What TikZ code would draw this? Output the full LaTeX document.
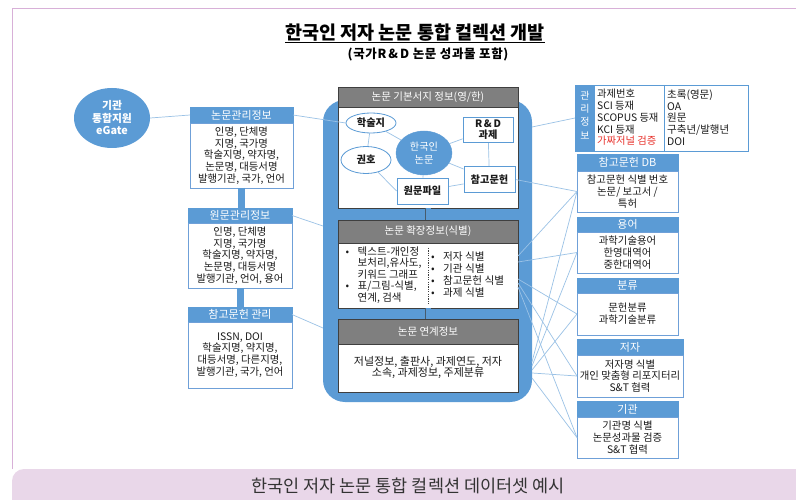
\documentclass[tikz,border=0pt]{standalone}
\usepackage{fontspec}
\setmainfont{Noto Sans CJK KR}
\usetikzlibrary{shapes.geometric,calc}
\pgfdeclarelayer{front}
\pgfsetlayers{main,front}
\definecolor{hblue}{HTML}{5B9BD5}
\definecolor{cblue}{HTML}{5B9BD5}
\definecolor{lblue}{HTML}{9BC2E6}
\definecolor{bdr}{HTML}{6FA0D8}
\definecolor{gray7}{HTML}{7F7F7F}
\definecolor{dk}{HTML}{3F3F3F}
\definecolor{pinkl}{HTML}{D8B0D8}
\definecolor{pinkf}{HTML}{E9D7E9}
\definecolor{txt}{HTML}{1A1A1A}
\definecolor{tgray}{HTML}{333333}
\definecolor{fake}{HTML}{E8302A}
\begin{document}
\begin{tikzpicture}[x=1pt,y=-1pt,
  hdr/.style={fill=hblue,draw=hblue,text=white,line width=0.8pt,inner sep=0pt,outer sep=0pt,font=\fontsize{11}{12}\selectfont},
  bodybox/.style={fill=white,draw=bdr,line width=0.8pt,inner sep=0pt,outer sep=0pt,align=center,text=txt,font=\fontsize{10.4}{11.8}\selectfont},
  ghdr/.style={fill=gray7,draw=dk,line width=0.7pt,text=white,inner sep=0pt,outer sep=0pt,minimum width=180pt,font=\fontsize{10.5}{12}\selectfont},
  gbody/.style={fill=white,draw=dk,line width=0.7pt,inner sep=0pt,outer sep=0pt,minimum width=180pt,anchor=north},
  conn/.style={draw=lblue,line width=0.7pt},
  inbox/.style={draw=hblue,fill=white,line width=0.8pt,inner sep=0pt,align=center,text=txt,font=\fontsize{10.2}{11.5}\selectfont\bfseries},
  inell/.style={ellipse,draw=hblue,fill=white,line width=0.8pt,inner sep=0pt,text=txt,font=\fontsize{10.2}{12}\selectfont\bfseries},
  linkbar/.style={draw=dk!70!hblue,line width=0.6pt,double=hblue,double distance=5pt},
  sidebar/.style={draw=hblue,line width=7pt}
]
\useasboundingbox (0,0) rectangle (796,500);
\fill[white] (0,0) rectangle (796,500);
% frame and caption bar
\fill[pinkf, rounded corners=12pt] (12,469) rectangle (830,540);
\draw[pinkl, line width=0.8pt] (12,469) -- (12,8) -- (800,8);
\node[font=\fontsize{17.5}{19}\selectfont, text=tgray] (cap) at (408,486) {한국인 저자 논문 통합 컬렉션 데이터셋 예시};

% title
\node[font=\fontsize{18.5}{20}\selectfont\bfseries, inner sep=0pt] (title) at (415,33) {한국인 저자 논문 통합 컬렉션 개발};
\coordinate (ul) at (0,42);
\draw[line width=0.9pt] (title.west |- ul) -- (title.east |- ul);
\node[font=\fontsize{12.5}{14}\selectfont\bfseries\addfontfeature{LetterSpace=5}] (sub) at (428,54) {(국가R\,\&\,D 논문 성과물 포함)};

% eGate
\node[ellipse, fill=hblue, minimum width=76pt, minimum height=60pt, inner sep=0pt, text=white, align=center, font=\fontsize{10.8}{12.5}\selectfont\bfseries] (eg) at (112,118) {기관\\통합지원\\eGate};

% left boxes
\node[hdr, minimum width=103pt, minimum height=16pt] (b1h) at (241.5,115) {논문관리정보};
\node[bodybox, minimum width=103pt, minimum height=65pt, anchor=north] (b1) at (b1h.south) {인명, 단체명\\지명, 국가명\\학술지명, 약자명,\\논문명, 대등서명\\발행기관, 국가, 언어};
\node[hdr, minimum width=104pt, minimum height=15pt] (b2h) at (240,215.5) {원문관리정보};
\node[bodybox, minimum width=104pt, minimum height=65pt, anchor=north] (b2) at (b2h.south) {인명, 단체명\\지명, 국가명\\학술지명, 약자명,\\논문명, 대등서명\\발행기관, 언어, 용어};
\node[hdr, minimum width=104pt, minimum height=15pt] (b3h) at (240,314.5) {참고문헌 관리};
\node[bodybox, minimum width=104pt, minimum height=66pt, anchor=north] (b3) at (b3h.south) {ISSN, DOI\\학술지명, 약지명,\\대등서명, 다른지명,\\발행기관, 국가, 언어};
\draw[sidebar] (b1.south) -- (b1.south |- b2h.north);
\draw[sidebar] (b2.south) -- (b2.south |- b3h.north);

\draw[conn] (eg.east) -- (b1h.west);
\coordinate (c2) at (323,226);
\coordinate (c3) at (323,328);
\draw[conn] (b2h.east) -- (c2);
\draw[conn] (b3h.east) -- (c3);

% central container
\node[fill=cblue, rounded corners=22pt, minimum width=209pt, minimum height=302pt, outer sep=0pt, inner sep=0pt] (cont) at (427.5,251) {};

% panels
\node[ghdr, minimum height=20pt] (p1h) at (428,97) {논문 기본서지 정보(영/한)};
\node[gbody, minimum height=101pt] (p1) at (p1h.south) {};
\node[ghdr, minimum height=23pt] (p2h) at (428,231.5) {논문 확장정보(식별)};
\node[gbody, minimum height=65pt] (p2) at (p2h.south) {};
\node[ghdr, minimum height=25pt] (p3h) at (428,331.5) {논문 연계정보};
\node[gbody, minimum height=48pt] (p3) at (p3h.south) {};
\draw[linkbar] (p1.south) -- (p2h.north);
\draw[linkbar] (p2.south) -- (p3h.north);

% panel 1 content
\begin{pgfonlayer}{front}
\node[inell, minimum width=50pt, minimum height=20pt] (hak) at (371,123) {학술지};
\node[inell, minimum width=50pt, minimum height=27pt] (gh) at (366,160) {권호};
\node[ellipse, fill=hblue, draw=hblue, minimum width=56pt, minimum height=44pt, inner sep=0pt, align=center, text=white, font=\fontsize{10.2}{12.5}\selectfont] (kr) at (424,153) {한국인\\논문};
\node[inbox, minimum width=50pt, minimum height=25pt] (rd) at (488,129.5) {R\,\&\,D\\과제};
\node[inbox, minimum width=51pt, minimum height=26pt] (ref) at (489.5,179.5) {참고문헌};
\node[inbox, minimum width=51pt, minimum height=26pt] (wf) at (422.5,191) {원문파일};
\end{pgfonlayer}
\draw[conn] (hak) -- (kr);
\draw[conn] (hak) -- (gh);
\draw[conn] (gh) -- (wf.west);
\draw[conn] (kr) -- (wf);
\draw[conn] (kr) -- (rd);
\draw[conn] (kr) -- (ref);
\draw[conn] (rd) -- (ref);
\draw[conn] (wf) -- (ref);
\draw[conn] (b1h.east) -- (hak.west);

% panel 2 content
\node[anchor=west, align=left, font=\fontsize{10.5}{11.5}\selectfont, text=txt, inner sep=0pt] (p2l) at (345.5,275) {\makebox[12pt][l]{•}텍스트-개인정\\\hspace*{12pt}보처리,유사도,\\\hspace*{12pt}키워드 그래프\\\makebox[12pt][l]{•}표/그림-식별,\\\hspace*{12pt}연계, 검색};
\coordinate (d1) at (428,248);
\coordinate (d2) at (428,305);
\draw[dk, line width=0.6pt, dash pattern=on 1.2pt off 1.2pt] (d1) -- (d2);
\node[anchor=west, align=left, font=\fontsize{10.6}{11.7}\selectfont, text=txt, inner sep=0pt] (p2r) at (431,274.5) {\makebox[12pt][l]{•}저자 식별\\\makebox[12pt][l]{•}기관 식별\\\makebox[12pt][l]{•}참고문헌 식별\\\makebox[12pt][l]{•}과제 식별};

% panel 3 content
\node[align=center, font=\fontsize{11}{11.5}\selectfont, text=txt, inner sep=0pt] (p3t) at (428,367.5) {저널정보, 출판사, 과제연도, 저자\\소속, 과제정보, 주제분류};

% right: management info table
\node[draw=hblue, line width=0.9pt, minimum width=173pt, minimum height=66pt, inner sep=0pt, outer sep=0pt, fill=white] (mg) at (661.5,118) {};
\node[fill=hblue, minimum width=20pt, minimum height=66pt, inner sep=0pt, outer sep=0pt, anchor=west] (mgs) at (mg.west) {};
\node[align=center, text=white, font=\fontsize{10}{13.3}\selectfont, inner sep=0pt] (mgt) at (585,115) {관\\리\\정\\보};
\draw[hblue, line width=0.8pt] ($(mg.north west)+(89,0)$) -- ($(mg.south west)+(89,0)$);
\node[anchor=west, align=left, font=\fontsize{10.3}{11.75}\selectfont, text=txt, inner sep=0pt] (mgl) at (597,117.5) {과제번호\\SCI 등재\\SCOPUS 등재\\KCI 등재\\\textcolor{fake}{가짜저널 검증}};
\node[anchor=west, align=left, font=\fontsize{10.5}{11.75}\selectfont, text=txt, inner sep=0pt] (mgr) at (667,117.5) {초록(영문)\\OA\\원문\\구축년/발행년\\DOI};

% right boxes
\node[hdr, minimum width=101pt, minimum height=17pt] (dbh) at (627.5,162.5) {참고문헌 DB};
\node[bodybox, minimum width=101pt, minimum height=41pt, anchor=north] (dbb) at (dbh.south) {참고문헌 식별 번호\\논문/ 보고서 /\\특허};
\node[hdr, minimum width=101pt, minimum height=15pt] (yh) at (627.5,224.5) {용어};
\node[bodybox, minimum width=101pt, minimum height=41pt, anchor=north] (yb) at (yh.south) {과학기술용어\\한영대역어\\중한대역어};
\node[hdr, minimum width=101pt, minimum height=15pt] (fh) at (627.5,285.5) {분류};
\node[bodybox, minimum width=101pt, minimum height=42pt, anchor=north] (fb) at (fh.south) {문헌분류\\과학기술분류};
\node[hdr, minimum width=106pt, minimum height=16pt] (jh) at (630,347) {저자};
\node[bodybox, minimum width=106pt, minimum height=42pt, anchor=north] (jb) at (jh.south) {저자명 식별\\개인 맞춤형 리포지터리\\S\&T 협력};
\node[hdr, minimum width=101pt, minimum height=16pt] (kh) at (627.5,409) {기관};
\node[bodybox, minimum width=101pt, minimum height=41pt, anchor=north] (kb) at (kh.south) {기관명 식별\\논문성과물 검증\\S\&T 협력};

% right connectors
\coordinate (r0) at (532,127);
\draw[conn] (r0) -- (mg.west);
\draw[conn] (ref.east) -- (dbb.west);
\coordinate (s2a) at (518,256);
\coordinate (s2b) at (518,262);
\coordinate (s2c) at (518,279);
\coordinate (s2d) at (518,283);
\coordinate (s2e) at (518,287);
\coordinate (s3a) at (532,362);
\coordinate (s3b) at (532,366);
\coordinate (s3c) at (532,370);
\coordinate (s3d) at (532,373);
\coordinate (s3e) at (532,378);
\draw[conn] (s2a) -- (dbb.west);
\draw[conn] (s2b) -- (yb.west);
\draw[conn] (s2c) -- (fb.west);
\draw[conn] (s2d) -- (jb.west);
\draw[conn] (s2e) -- (kb.west);
\draw[conn] (s3a) -- (dbb.west);
\draw[conn] (s3b) -- (yb.west);
\draw[conn] (s3c) -- (fb.west);
\draw[conn] (s3d) -- (jb.west);
\draw[conn] (s3e) -- (kb.west);
\end{tikzpicture}
\end{document}
